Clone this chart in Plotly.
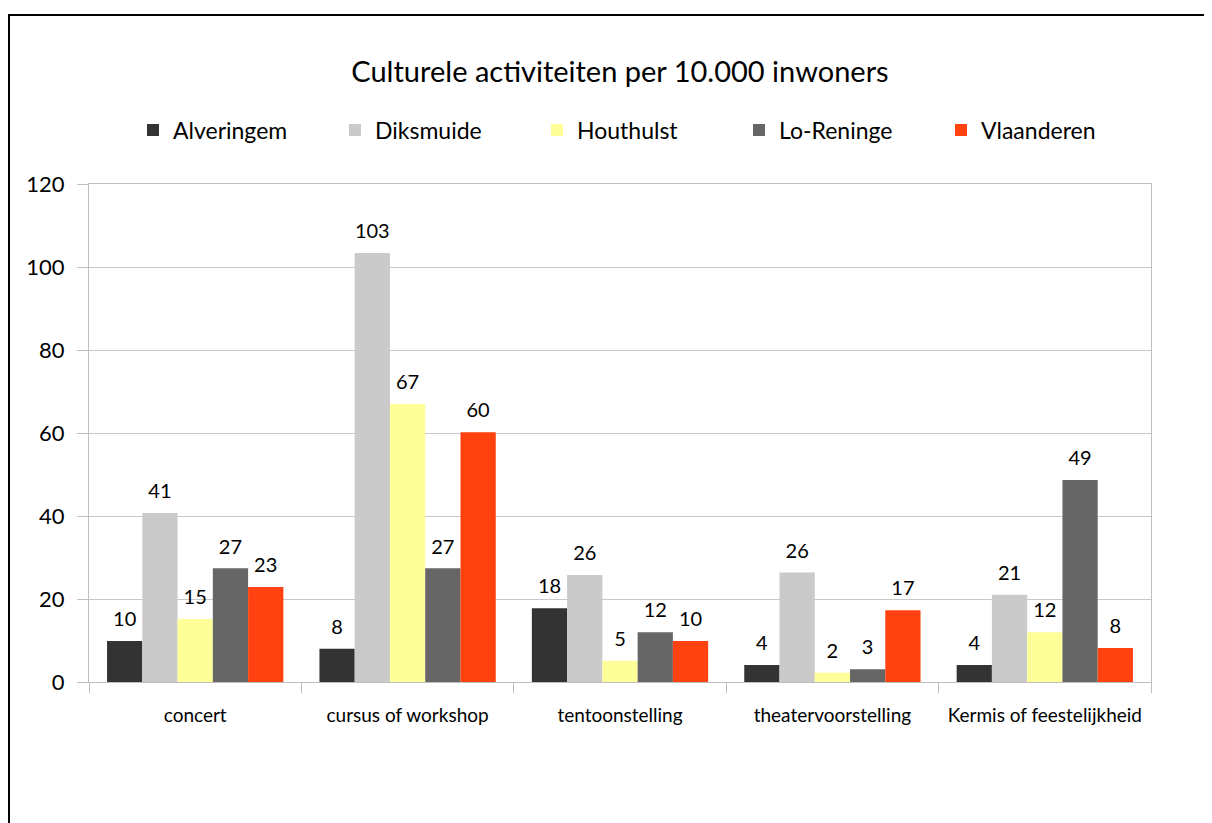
import plotly.graph_objects as go

categories = ["concert", "cursus of workshop", "tentoonstelling", "theatervoorstelling", "Kermis of feestelijkheid"]
alveringem = [9.9, 8.0, 17.8, 4.1, 4.1]
diksmuide = [40.7, 103.4, 25.8, 26.4, 21.0]
houthulst = [15.2, 67.0, 5.1, 2.2, 12.0]
lo_reninge = [27.4, 27.4, 12.0, 3.1, 48.7]
vlaanderen = [22.9, 60.2, 9.9, 17.3, 8.2]

series = [
    ("Alveringem", alveringem, "#333333"),
    ("Diksmuide", diksmuide, "#CACACA"),
    ("Houthulst", houthulst, "#FFFF99"),
    ("Lo-Reninge", lo_reninge, "#666666"),
    ("Vlaanderen", vlaanderen, "#FF4210"),
]

FONT = "Lato"
GAP = 0.17
fig = go.Figure()
for name, vals, col in series:
    fig.add_trace(go.Bar(
        name=name, x=categories, y=vals,
        marker=dict(color=col, line=dict(width=0)),
        offsetgroup=name, alignmentgroup="g",
    ))
for name, vals, col in series:
    fig.add_trace(go.Scatter(
        name=name, x=categories, y=vals, mode="markers+text",
        marker=dict(size=14, color="rgba(0,0,0,0)"),
        texttemplate="%{y:.0f}", textposition="top center",
        textfont=dict(family=FONT, size=20, color="#000000"),
        offsetgroup=name, alignmentgroup="g",
        showlegend=False, cliponaxis=False, hoverinfo="skip",
    ))

# page body has an 8px margin; figure coordinates are window coords minus 8
OFF = 8
W, H = 1212 - OFF, 823 - OFF
L, T = 89 - OFF, 184 - OFF
R = W - (1151 - OFF)
B = H - (682 - OFF)
pw = W - L - R
ph = H - T - B

def px_x(x):
    return (x - OFF - L) / pw

def px_y(y):
    return (H - B - (y - OFF)) / ph

fig.update_layout(
    width=W, height=H,
    margin=dict(l=L, r=R, t=T, b=B),
    paper_bgcolor="white", plot_bgcolor="white",
    barmode="group", bargap=GAP, bargroupgap=0,
    scattermode="group", scattergap=GAP,
    font=dict(family=FONT, size=18, color="#000000"),
    title=dict(text="Culturele activiteiten per 10.000 inwoners",
               x=0.5, xanchor="center", xref="paper",
               y=1 - (72 - OFF) / H, yanchor="middle",
               font=dict(family=FONT, size=29, color="#000000")),
    legend=dict(orientation="h", x=0.5 + 18 / pw, xanchor="center",
                y=px_y(130), yanchor="middle",
                font=dict(family=FONT, size=23, color="#000000"),
                itemwidth=30, traceorder="normal",
                entrywidth=157, entrywidthmode="pixels"),
    showlegend=True,
)
fig.update_xaxes(
    showline=True, linecolor="#BFBFBF", linewidth=1, mirror=True,
    ticks="outside", ticklen=10, tickcolor="#BFBFBF", tickson="boundaries",
    tickfont=dict(family=FONT, size=19, color="#000000"),
    ticklabelstandoff=16,
    showgrid=False,
)
fig.update_yaxes(
    range=[0, 120], dtick=20, tick0=0,
    showline=True, linecolor="#BFBFBF", linewidth=1, mirror=True,
    ticks="outside", ticklen=11, tickcolor="#BFBFBF",
    ticklabelstandoff=8,
    showgrid=True, gridcolor="#C8C8C8", gridwidth=1,
    tickfont=dict(family=FONT, size=22, color="#000000"),
    zeroline=False,
)
# outer chart frame (left and top edges; right and bottom lie outside the image)
xl, xr = px_x(9), px_x(1212 + 40)
yt, yb = px_y(15), px_y(823 + 40)
fig.add_shape(type="path", xref="paper", yref="paper",
              path=f"M {xr} {yt} L {xl} {yt} L {xl} {yb}",
              line=dict(color="#000000", width=2), layer="above")
fig.write_html("out.html")
